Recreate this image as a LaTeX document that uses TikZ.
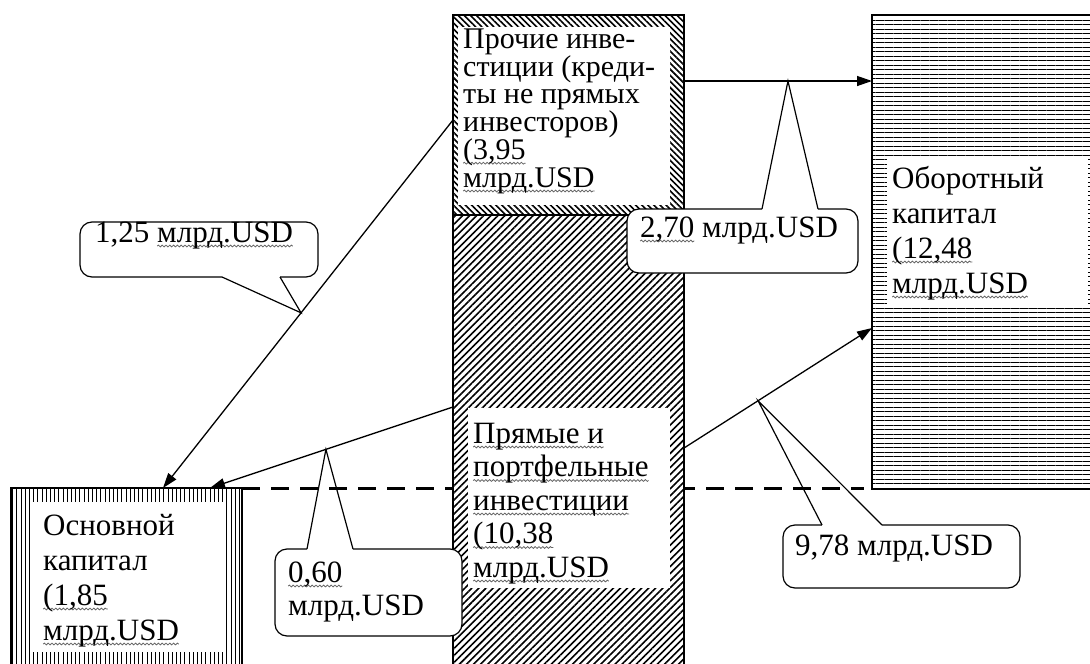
\documentclass[tikz,border=0pt]{standalone}
\usepackage{fontspec}
\setmainfont{Liberation Serif}
\usetikzlibrary{patterns.meta,arrows.meta,decorations.pathmorphing,calc}
\setlength\lineskiplimit{-30pt}
\setlength\lineskip{0pt}
\newlength\wvlen
\newcommand\fs{\rule{0pt}{23pt}}
\newcommand\wv[1]{\settowidth\wvlen{#1}\tikz[overlay]\draw[wavyline](0pt,-3.8pt)--(\wvlen,-3.8pt);#1}
\tikzset{
  wavyline/.style={draw=black!60, line width=0.8pt, solid, decorate,
    decoration={snake,amplitude=0.9pt,segment length=3.8pt}},
  box/.style={draw=black, line width=1.2pt, anchor=north west, inner sep=0pt,
    outer sep=0pt, preaction={fill=white}},
  hatchNE/.style={pattern={Lines[angle=45,distance=5pt,line width=1.6pt]}},
  hatchNW/.style={pattern={Lines[angle=-45,distance=4.3pt,line width=1.6pt]}},
  hatchH/.style={pattern={Lines[angle=0,distance=4.5pt,line width=1pt]}},
  hatchV/.style={pattern={Lines[angle=90,distance=4.2pt,line width=0.9pt]}},
  txt/.style={anchor=north west, inner sep=0pt, align=left},
  flow/.style={line width=1.3pt, -{Triangle[length=15pt,width=10pt]}},
  bubble/.style={draw=black, line width=1.2pt, fill=white, rounded corners=12pt},
  tail/.style={draw=black, line width=1.2pt},
  eraser/.style={draw=white, line width=2.6pt},
  dashline/.style={line width=3pt, dash pattern=on 18pt off 11pt},
}
\begin{document}
\begin{tikzpicture}[x=1pt,y=-1pt]
\useasboundingbox (0,0) rectangle (1090,664);

% outer boxes
\node[box,hatchH,minimum width=240pt,minimum height=474pt] (working) at (872,15) {};
\node[box,hatchV,line width=1.8pt,minimum width=231pt,minimum height=200pt] (fixed) at (11,488) {};

% dashed level line (behind the column)
\draw[dashline] (fixed.north east) -- ([xshift=-8pt]fixed.north east -| working.west);

% central column
\node[box,hatchNE,minimum width=231pt,minimum height=470pt] (direct) at (453,215) {};
\node[box,hatchNW,minimum width=231pt,minimum height=200pt] (other) at (453,15) {};

% white text areas
\fill[white] (458,27) rectangle (670,205);
\fill[white] (468,408) rectangle (670,588);
\fill[white] (887,157) rectangle (1088,305);
\fill[white] (32,502) rectangle (226,652);

% texts
\node[txt,font=\fontsize{30}{27.8}\selectfont] (othertext) at (463,25)
  {\fs Прочие инве-\\стиции (креди-\\ты не прямых\\инвесторов)\\\wv{(3,95}\\\wv{млрд.USD}};
\node[txt,font=\fontsize{31}{33.5}\selectfont] (directtext) at (473,420)
  {\fs\wv{Прямые и}\\\wv{портфельные}\\\wv{инвестиции}\\\wv{(10,38}\\\wv{млрд.USD}};
\node[txt,font=\fontsize{31}{35}\selectfont] (workingtext) at (892,165)
  {\fs Оборотный\\капитал\\\wv{(12,48}\\\wv{млрд.USD}};
\node[txt,font=\fontsize{31}{35}\selectfont] (fixedtext) at (43,512)
  {\fs Основной\\капитал\\\wv{(1,85}\\\wv{млрд.USD}};

% flows
\draw[flow] ([yshift=-5pt]other.west) -- coordinate[pos=0.524] (tip1) ([xshift=36.5pt]fixed.north);
\draw[flow] ([yshift=34pt]other.east) -- coordinate[pos=0.553] (tip2) ([yshift=171pt]working.west);
\draw[flow] ([yshift=43pt]direct.west) -- coordinate[pos=0.523] (tip3) ([xshift=83.5pt]fixed.north);
\draw[flow] ([yshift=2pt]direct.east) -- coordinate[pos=0.394] (tip4) ([yshift=-76pt]working.west);

% callout 1,25
\draw[bubble] (80,222) rectangle (318,277);
\draw[eraser] (222,277) -- (280,277);
\draw[tail] (222,277) -- (tip1) -- (280,277);
\node[txt,font=\fontsize{31}{35}\selectfont] (c125) at (95,219) {\fs 1,25 \wv{млрд.USD}};

% callout 2,70
\draw[bubble] (627,209) rectangle (858,273);
\draw[eraser] (762,209) -- (818,209);
\draw[tail] (762,209) -- (tip2) -- (818,209);
\node[txt,font=\fontsize{31}{35}\selectfont] (c270) at (640,214) {\fs\wv{2,70} млрд.USD};

% callout 0,60
\draw[bubble] (275,549) rectangle (462,636);
\draw[eraser] (307,549) -- (353,549);
\draw[tail] (307,549) -- (tip3) -- (353,549);
\node[txt,font=\fontsize{31}{33}\selectfont] (c060) at (288,559) {\fs\wv{0,60}\\млрд.USD};

% callout 9,78
\draw[bubble] (783,525) rectangle (1020,588);
\draw[eraser] (822,525) -- (882,525);
\draw[tail] (822,525) -- (tip4) -- (882,525);
\node[txt,font=\fontsize{31}{35}\selectfont] (c978) at (795,532) {\fs 9,78 млрд.USD};
\end{tikzpicture}
\end{document}
